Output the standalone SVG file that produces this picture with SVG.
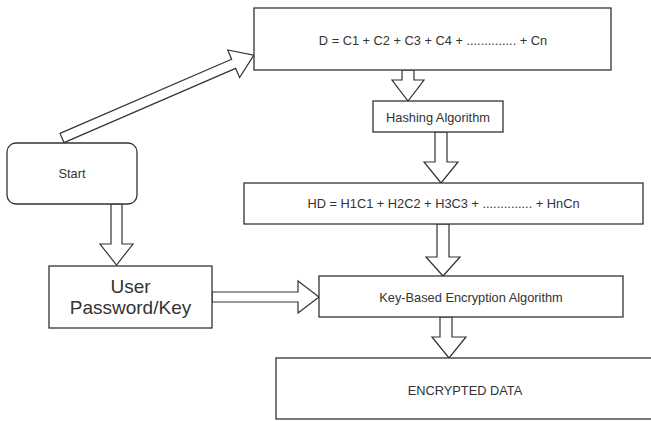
<svg xmlns="http://www.w3.org/2000/svg" width="651" height="421" viewBox="0 0 651 421">
<style>
.box{fill:#fff;stroke:#333;stroke-width:1.3}
.arr{fill:#fff;stroke:#333;stroke-width:1.2;stroke-linejoin:miter}
.t{font-family:"Liberation Sans",Arial,sans-serif;font-size:12.8px;fill:#333;text-anchor:middle;dominant-baseline:central}
.big{font-size:19px}
</style>
<rect width="651" height="421" fill="#fff"/>
<g id="connectors">
<polygon class="arr" transform="translate(62,138) rotate(-23.38)" points="0,-5 187,-5 187,-15 209,0 187,15 187,5 0,5"/>
<polygon class="arr" points="402,70 414,70 414,80 424,80 408,101 392,80 402,80"/>
<polygon class="arr" points="435,132 447,132 447,162 458,162 441,183 424,162 435,162"/>
<polygon class="arr" points="437,224 449,224 449,257 460,257 443,276 426,257 437,257"/>
<polygon class="arr" points="440,317 452,317 452,337 466,337 449,358 432,337 440,337"/>
<polygon class="arr" points="111,204 122,204 122,244 133,244 116.5,265 100,244 111,244"/>
<polygon class="arr" points="212,292 298,292 298,281 319,297 298,313 298,302 212,302"/>
</g>
<g id="start">
<rect class="box" x="7" y="143" width="130" height="61" rx="9"/>
<text class="t" x="72" y="173.5">Start</text>
</g>
<g id="d-sum">
<rect class="box" x="254" y="8" width="357" height="62"/>
<text class="t" x="433" y="40">D = C1 + C2 + C3 + C4 + .............. + Cn</text>
</g>
<g id="hashing">
<rect class="box" x="373" y="101" width="130" height="31"/>
<text class="t" x="438" y="117">Hashing Algorithm</text>
</g>
<g id="hd-sum">
<rect class="box" x="244" y="183" width="399" height="41"/>
<text class="t" x="443.5" y="203.5">HD = H1C1 + H2C2 + H3C3 + .............. + HnCn</text>
</g>
<g id="user-key">
<rect class="box" x="49" y="266" width="163" height="62"/>
<text class="t big" x="130.5" y="286">User</text>
<text class="t big" x="130.5" y="307.5">Password/Key</text>
</g>
<g id="key-encryption">
<rect class="box" x="319" y="276" width="304" height="41"/>
<text class="t" x="471" y="297">Key-Based Encryption Algorithm</text>
</g>
<g id="encrypted-data">
<rect class="box" x="276" y="358" width="380" height="61"/>
<text class="t" x="465" y="390">ENCRYPTED DATA</text>
</g>
</svg>
